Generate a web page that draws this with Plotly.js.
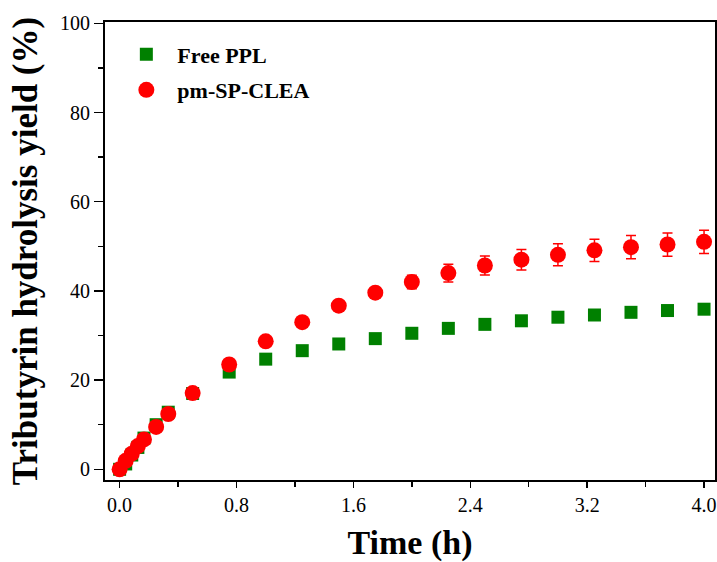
<!DOCTYPE html>
<html>
<head>
<meta charset="utf-8">
<script src="https://cdn.plot.ly/plotly-3.0.1.min.js"></script>
<style>html,body{margin:0;padding:0;background:#fff;}#chart{width:717px;height:562px;}</style>
</head>
<body>
<div id="chart"></div>
<script>
const timeH = [0, 0.0417, 0.0833, 0.125, 0.1667, 0.25, 0.333, 0.5, 0.75, 1.0, 1.25, 1.5, 1.75, 2.0, 2.25, 2.5, 2.75, 3.0, 3.25, 3.5, 3.75, 4.0];
const freePPL = [0, 1.2, 3.2, 4.9, 7.0, 10.0, 12.8, 17.0, 21.8, 24.7, 26.6, 28.1, 29.3, 30.5, 31.6, 32.5, 33.3, 34.1, 34.6, 35.2, 35.6, 35.9];
const pmSPCLEA = [0, 1.9, 3.5, 5.2, 6.7, 9.5, 12.4, 17.1, 23.5, 28.7, 33.0, 36.7, 39.6, 42.0, 44.0, 45.7, 47.0, 48.1, 49.1, 49.8, 50.4, 51.0];
const pmSPCLEAErr = [0.4, 0.5, 0.5, 0.5, 0.5, 0.6, 0.6, 0.7, 0.7, 0.8, 0.8, 0.8, 0.8, 1.5, 2.0, 2.15, 2.3, 2.45, 2.5, 2.6, 2.6, 2.6];
const seriesNames = ['Free PPL', 'pm-SP-CLEA'];
const xTickVals = [0, 0.8, 1.6, 2.4, 3.2, 4.0];
const xTickText = ['0.0', '0.8', '1.6', '2.4', '3.2', '4.0'];
const yTickVals = [0, 20, 40, 60, 80, 100];

const serif = '"Liberation Serif", "DejaVu Serif", serif';

const traces = [
  {
    x: timeH, y: freePPL, name: '\u2002' + seriesNames[0], legendgroup: 'a', type: 'scatter', mode: 'markers',
    marker: {symbol: 'square', size: 13, color: '#008000'}
  },
  {
    x: timeH, y: pmSPCLEA, name: '\u2002' + seriesNames[1], legendgroup: 'b', type: 'scatter', mode: 'markers',
    marker: {symbol: 'circle', size: 16, color: '#ff0000'},
    error_y: {type: 'data', array: pmSPCLEAErr, visible: true, color: '#ff0000', thickness: 1.5, width: 5}
  }
];

const layout = {
  width: 717, height: 562,
  margin: {l: 105, r: 2, t: 22, b: 82},
  paper_bgcolor: '#fff', plot_bgcolor: '#fff',
  font: {family: serif, color: '#000'},
  showlegend: true,
  legend: {
    x: 0.035, y: 0.975, xanchor: 'left', yanchor: 'top',
    font: {family: serif, size: 22, color: '#000', weight: 'bold'},
    bgcolor: 'rgba(0,0,0,0)', itemwidth: 30,
    traceorder: 'grouped', tracegroupgap: 4
  },
  xaxis: {
    range: [-0.1, 4.075],
    tickmode: 'array', tickvals: xTickVals, ticktext: xTickText,
    ticks: 'outside', ticklen: 6, tickwidth: 1.5, tickcolor: '#000',
    minor: {dtick: 0.4, ticks: 'outside', ticklen: 5, tickwidth: 1.5, tickcolor: '#000'},
    showline: true, linecolor: '#000', linewidth: 2, mirror: true,
    showgrid: false, zeroline: false,
    tickfont: {family: serif, size: 20, color: '#000'},
    title: {text: '<b>Time (h)</b>', font: {family: serif, size: 34, color: '#000'}, standoff: 16}
  },
  yaxis: {
    range: [-2.4, 100.3],
    tickmode: 'array', tickvals: yTickVals,
    ticks: 'outside', ticklen: 9, tickwidth: 1.5, tickcolor: '#000',
    minor: {dtick: 10, ticks: 'outside', ticklen: 5, tickwidth: 1.5, tickcolor: '#000'},
    showline: true, linecolor: '#000', linewidth: 2, mirror: true,
    showgrid: false, zeroline: false,
    tickfont: {family: serif, size: 20, color: '#000'},
    title: {text: '<b>Tributyrin hydrolysis yield (%)</b>', font: {family: serif, size: 35, color: '#000'}, standoff: 12}
  }
};

Plotly.newPlot('chart', traces, layout, {displayModeBar: false, staticPlot: true});
</script>
</body>
</html>
